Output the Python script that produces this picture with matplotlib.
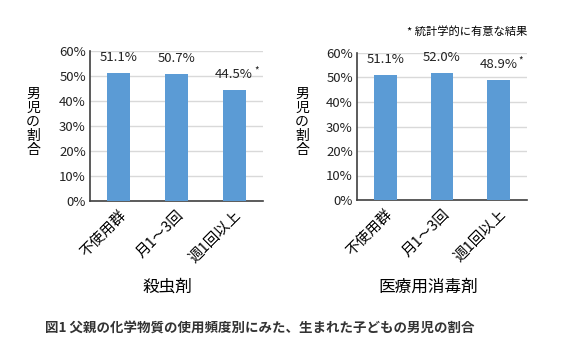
import matplotlib
matplotlib.use("Agg")
import matplotlib.pyplot as plt
from matplotlib.ticker import PercentFormatter

plt.rcParams["font.family"] = ["Noto Sans CJK JP", "DejaVu Sans"]

# ------------------------------------------------------------
# Data
# ------------------------------------------------------------
categories = ["不使用群", "月1～3回", "週1回以上"]
insecticide = [51.1, 50.7, 44.5]
disinfectant = [51.1, 52.0, 48.9]
significant = [False, False, True]

panel_titles = ["殺虫剤", "医療用消毒剤"]
ylabel = "男児の割合"
note = "* 統計学的に有意な結果"
caption = "図1 父親の化学物質の使用頻度別にみた、生まれた子どもの男児の割合"

BAR_COLOR = "#5B9BD5"
W, H = 580, 353


def px_axes(fig, left, top, right, bottom):
    return fig.add_axes([left / W, 1 - bottom / H, (right - left) / W, (bottom - top) / H])


def draw_panel(ax, values, title, title_x):
    x = range(len(categories))
    ax.bar(x, values, width=0.4, color=BAR_COLOR, zorder=3)
    ax.set_ylim(0, 60)
    ax.set_xlim(-0.5, len(categories) - 0.5)
    ax.set_yticks(range(0, 61, 10))
    ax.yaxis.set_major_formatter(PercentFormatter(decimals=0))
    ax.grid(axis="y", color="#d9d9d9", linewidth=1, zorder=0)
    for s in ["top", "right"]:
        ax.spines[s].set_visible(False)
    for s in ["left", "bottom"]:
        ax.spines[s].set_color("#404040")
        ax.spines[s].set_linewidth(1.2)
    ax.tick_params(axis="y", length=0, labelsize=9.5, pad=3, colors="#222222")
    ax.tick_params(axis="x", length=0, pad=5)
    ax.set_xticks(list(x))
    ax.set_xticklabels(categories, rotation=45, ha="right", rotation_mode="anchor",
                       fontsize=10.5)

    for i, (v, sig) in enumerate(zip(values, significant)):
        ax.annotate(f"{v:.1f}%", (i, v), xytext=(0, 11), textcoords="offset points",
                    ha="center", va="center", fontsize=9.5, color="#222222")
        if sig:
            ax.annotate("*", (i, v), xytext=(16, 14), textcoords="offset points",
                        ha="center", va="center", fontsize=7, color="#222222")

    fig.text(title_x / W, 1 - 287 / H, title, ha="center", va="center", fontsize=12)


fig = plt.figure(figsize=(W / 100, H / 100), dpi=100)

ax1 = px_axes(fig, 90, 51, 263, 201)
ax2 = px_axes(fig, 357, 53, 527, 200)

draw_panel(ax1, insecticide, panel_titles[0], 167)
draw_panel(ax2, disinfectant, panel_titles[1], 428)

for xp, yp in [(33, 122), (302, 122)]:
    fig.text(xp / W, 1 - yp / H, "\n".join(ylabel), ha="center", va="center",
             fontsize=10, linespacing=1.0)

fig.text(467 / W, 1 - 31 / H, note, ha="center", va="center", fontsize=8.1)
fig.text(260 / W, 1 - 328 / H, caption, ha="center", va="center", fontsize=9.7,
         fontweight="bold", color="#333333")

fig.savefig("out.png", dpi=100)
